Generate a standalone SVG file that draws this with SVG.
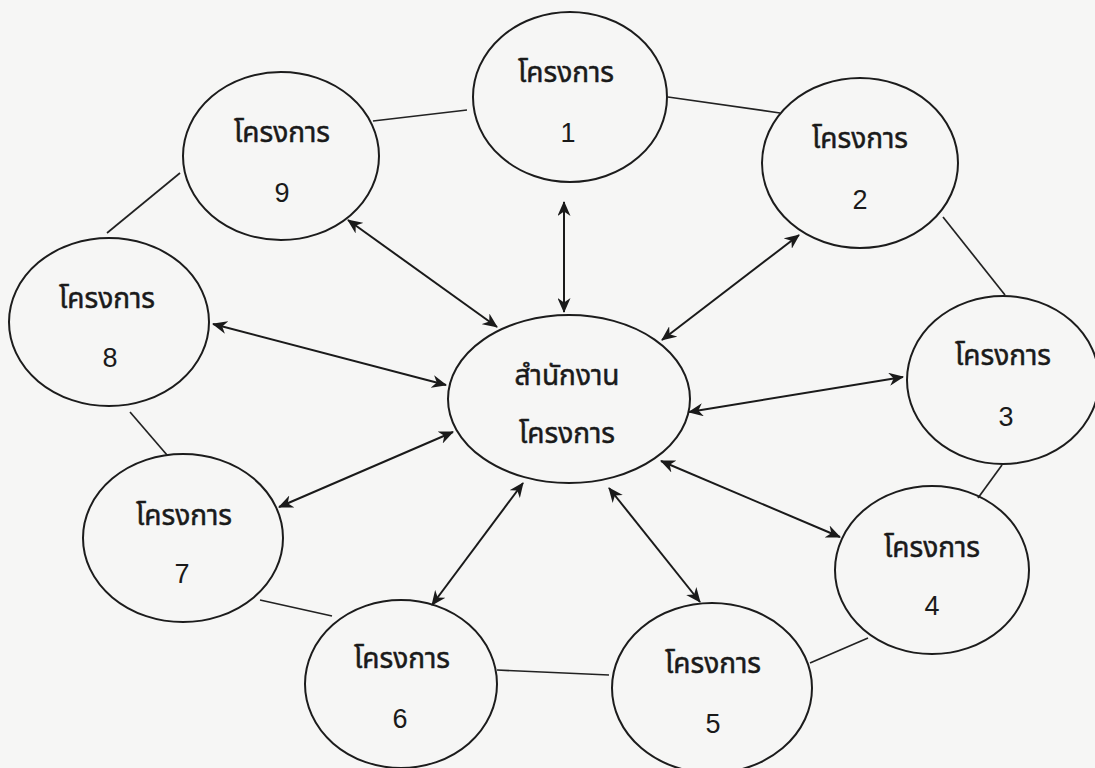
<svg xmlns="http://www.w3.org/2000/svg" width="1095" height="768" viewBox="0 0 1095 768">
<defs>
<style>
.node{fill:none;stroke:#1c1c1c;stroke-width:2}
.ring{stroke:#222;stroke-width:1.7;fill:none}
.arr{stroke:#1a1a1a;stroke-width:2;fill:none;marker-start:url(#ah);marker-end:url(#ah)}
.th{font-family:"Noto Sans Thai","Noto Sans Thai Looped","Loma","Garuda","Tlwg Typo","DejaVu Sans","Noto Sans",sans-serif;font-size:28px;fill:#1a1a1a;stroke:#1a1a1a;stroke-width:0.5;text-anchor:middle}
.num{font-family:"Liberation Sans",Arial,sans-serif;font-size:27px;fill:#1a1a1a;text-anchor:middle}
</style>
<marker id="ah" viewBox="0 0 15 13" refX="14" refY="6.5" markerWidth="15" markerHeight="13" markerUnits="userSpaceOnUse" orient="auto-start-reverse">
<path d="M0,0 L15,6.5 L0,13 L4.5,6.5 Z" fill="#1a1a1a"/>
</marker>
</defs>
<rect width="1095" height="768" fill="#f6f6f5"/>
<g id="connectors">
<line class="ring" x1="373" y1="121" x2="467" y2="110"/>
<line class="ring" x1="668" y1="97" x2="780" y2="113"/>
<line class="ring" x1="943" y1="217" x2="1005" y2="295"/>
<line class="ring" x1="1002" y1="465" x2="978" y2="498"/>
<line class="ring" x1="868" y1="638" x2="810" y2="663"/>
<line class="ring" x1="609" y1="675" x2="497" y2="670"/>
<line class="ring" x1="332" y1="616" x2="260" y2="600"/>
<line class="ring" x1="167" y1="455" x2="130" y2="412"/>
<line class="ring" x1="107" y1="233" x2="180" y2="173"/>
<line class="arr" x1="564" y1="202" x2="564" y2="312"/>
<line class="arr" x1="348" y1="220" x2="497" y2="327"/>
<line class="arr" x1="799" y1="235" x2="662" y2="340"/>
<line class="arr" x1="213" y1="324" x2="446" y2="385"/>
<line class="arr" x1="279" y1="507" x2="453" y2="432"/>
<line class="arr" x1="903" y1="377" x2="689" y2="412"/>
<line class="arr" x1="661" y1="461" x2="840" y2="537"/>
<line class="arr" x1="609" y1="488" x2="700" y2="602"/>
<line class="arr" x1="523" y1="483" x2="432" y2="605"/>
</g>
<g id="center">
<ellipse class="node" cx="569" cy="399" rx="121" ry="84"/>
<text class="th" x="567" y="385">สำนักงาน</text>
<text class="th" x="567" y="443">โครงการ</text>
</g>
<g id="n1">
<ellipse class="node" cx="570" cy="97" rx="97" ry="85"/>
<text class="th" x="566" y="82">โครงการ</text>
<text class="num" x="568" y="142">1</text>
</g>
<g id="n2">
<ellipse class="node" cx="860" cy="163" rx="98" ry="85"/>
<text class="th" x="860" y="148">โครงการ</text>
<text class="num" x="860" y="209">2</text>
</g>
<g id="n3">
<ellipse class="node" cx="1003" cy="380" rx="96" ry="84"/>
<text class="th" x="1003" y="365">โครงการ</text>
<text class="num" x="1006" y="426">3</text>
</g>
<g id="n4">
<ellipse class="node" cx="932" cy="570" rx="97" ry="84"/>
<text class="th" x="932" y="557">โครงการ</text>
<text class="num" x="932" y="615">4</text>
</g>
<g id="n5">
<ellipse class="node" cx="712" cy="688" rx="100" ry="85"/>
<text class="th" x="713" y="673">โครงการ</text>
<text class="num" x="713" y="733">5</text>
</g>
<g id="n6">
<ellipse class="node" cx="401" cy="684" rx="96" ry="84"/>
<text class="th" x="402" y="668">โครงการ</text>
<text class="num" x="400" y="728">6</text>
</g>
<g id="n7">
<ellipse class="node" cx="183" cy="538" rx="100" ry="84"/>
<text class="th" x="184" y="525">โครงการ</text>
<text class="num" x="182" y="583">7</text>
</g>
<g id="n8">
<ellipse class="node" cx="109" cy="322" rx="100" ry="84"/>
<text class="th" x="107" y="308">โครงการ</text>
<text class="num" x="110" y="367">8</text>
</g>
<g id="n9">
<ellipse class="node" cx="281" cy="156" rx="98" ry="84"/>
<text class="th" x="282" y="142">โครงการ</text>
<text class="num" x="282" y="202">9</text>
</g>
</svg>
